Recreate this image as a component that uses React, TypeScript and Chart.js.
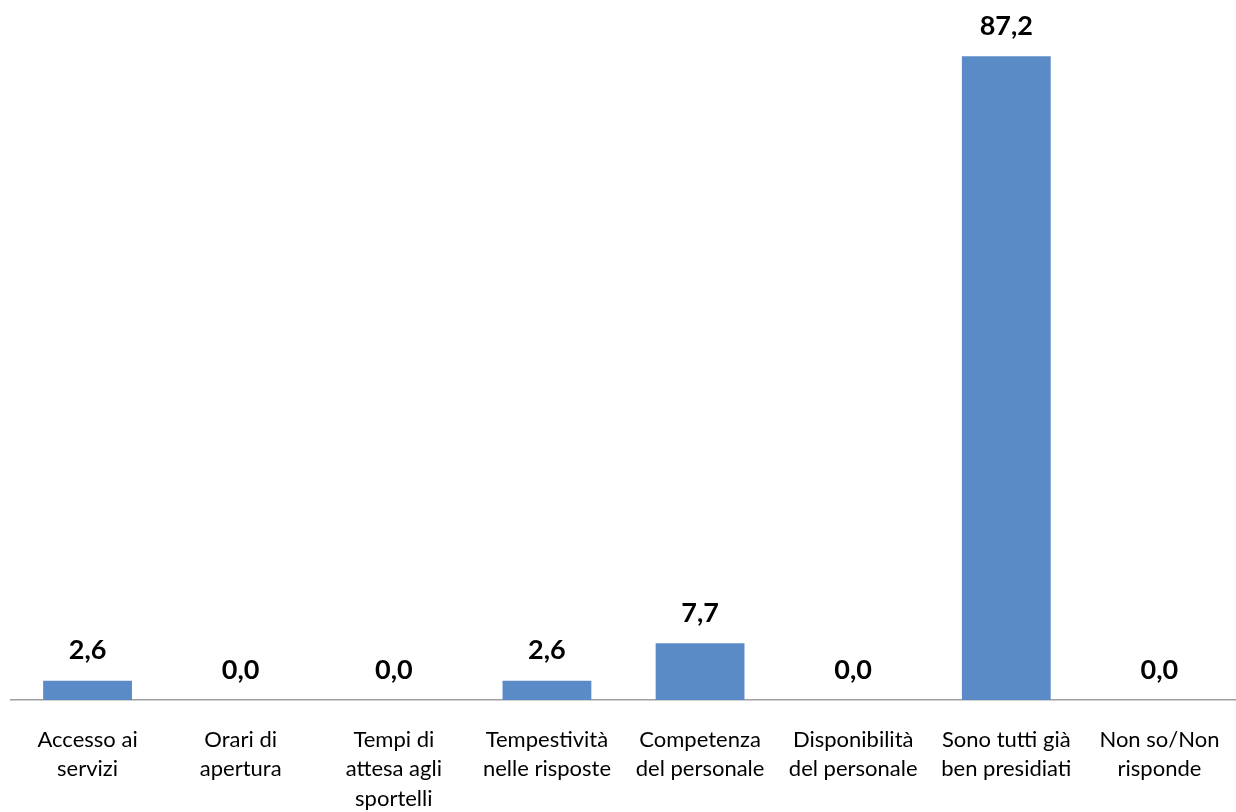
import React, { useEffect, useRef } from "react";
import { Chart, registerables } from "chart.js";

Chart.register(...registerables);

const categories: string[][] = [
  ["Accesso ai", "servizi"],
  ["Orari di", "apertura"],
  ["Tempi di", "attesa agli", "sportelli"],
  ["Tempestività", "nelle risposte"],
  ["Competenza", "del personale"],
  ["Disponibilità", "del personale"],
  ["Sono tutti già", "ben presidiati"],
  ["Non so/Non", "risponde"],
];

const values: number[] = [2.6, 0.0, 0.0, 2.6, 7.7, 0.0, 87.2, 0.0];

const barColor = "#5B8BC6";

const valueLabelPlugin = {
  id: "valueLabels",
  afterDatasetsDraw(chart: any) {
    const ctx = chart.ctx;
    const meta = chart.getDatasetMeta(0);
    ctx.save();
    ctx.font = "bold 27px Lato";
    ctx.fillStyle = "#000";
    ctx.textAlign = "center";
    ctx.textBaseline = "alphabetic";
    meta.data.forEach((bar: any, i: number) => {
      const txt = values[i].toFixed(1).replace(".", ",");
      ctx.fillText(txt, bar.x, bar.y - 21.5);
    });
    ctx.restore();
  },
};

export default function App() {
  const ref = useRef<HTMLCanvasElement | null>(null);
  useEffect(() => {
    if (!ref.current) return;
    const chart = new Chart(ref.current, {
      type: "bar",
      data: {
        labels: categories,
        datasets: [
          {
            data: values,
            backgroundColor: barColor,
            borderWidth: 0,
            categoryPercentage: 1,
            barPercentage: 0.58,
          },
        ],
      },
      options: {
        animation: false,
        responsive: false,
        maintainAspectRatio: false,
        devicePixelRatio: 1,
        layout: { padding: { left: 11, right: 0, top: 6, bottom: 0 } },
        plugins: {
          legend: { display: false },
          tooltip: { enabled: false },
        },
        scales: {
          x: {
            grid: { display: false, drawTicks: false },
            border: { display: true, color: "#A0A0A0", width: 1.5 },
            afterFit: (scale: any) => {
              scale.height = 112;
              scale.paddingLeft = 0;
              scale.paddingRight = 0;
            },
            ticks: {
              autoSkip: false,
              maxRotation: 0,
              minRotation: 0,
              color: "#000",
              padding: 25,
              font: { family: "Lato", size: 22, lineHeight: 1.34 },
            },
          },
          y: {
            display: false,
            min: 0,
            max: 94,
          },
        },
      },
      plugins: [valueLabelPlugin],
    });
    return () => chart.destroy();
  }, []);
  return (
    <div style={{ position: "fixed", left: 0, top: 0, width: 1236, height: 812, background: "#fff" }}>
      <canvas ref={ref} width={1236} height={812} style={{ display: "block" }} />
    </div>
  );
}
